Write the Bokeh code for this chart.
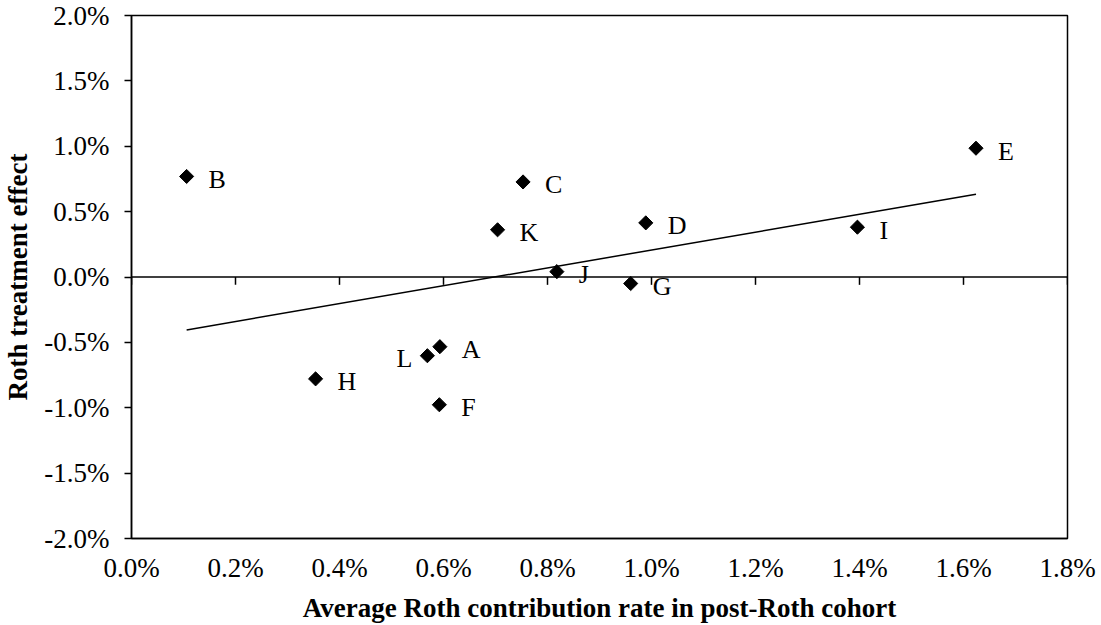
import numpy as np
from bokeh.plotting import figure
from bokeh.models import ColumnDataSource, FixedTicker, NumeralTickFormatter, Span
from bokeh.core.properties import value
from bokeh.embed import file_html
from bokeh.resources import INLINE

# Data (fractions)
names = ["A", "B", "C", "D", "E", "F", "G", "H", "I", "J", "K", "L"]
roth_rate = [0.00593, 0.00106, 0.00753, 0.00989, 0.01624, 0.00592, 0.00960, 0.00354, 0.01396, 0.00818, 0.00704, 0.00569]
treatment = [-0.00533, 0.00769, 0.00727, 0.00414, 0.00985, -0.00977, -0.00050, -0.00779, 0.00381, 0.00041, 0.00361, -0.00602]
x_ticks = [0.0, 0.002, 0.004, 0.006, 0.008, 0.010, 0.012, 0.014, 0.016, 0.018]
y_ticks = [-0.02, -0.015, -0.01, -0.005, 0.0, 0.005, 0.01, 0.015, 0.02]

SERIF = "Liberation Serif"

p = figure(width=1101, height=625, output_backend="svg", toolbar_location=None,
           x_range=(0.0, 0.018), y_range=(-0.02, 0.02),
           min_border_left=131, min_border_right=34, min_border_top=15, min_border_bottom=85)
p.xgrid.visible = False
p.ygrid.visible = False
p.outline_line_color = "black"
p.outline_line_width = 1.5
p.background_fill_color = "white"
p.border_fill_color = "white"

# axes
p.xaxis.ticker = FixedTicker(ticks=x_ticks)
p.yaxis.ticker = FixedTicker(ticks=y_ticks)
p.xaxis.formatter = NumeralTickFormatter(format="0.0%")
p.yaxis.formatter = NumeralTickFormatter(format="0.0%")
for ax in (p.xaxis[0], p.yaxis[0]):
    ax.axis_line_color = "black"
    ax.axis_line_width = 1.5
    ax.minor_tick_line_color = None
    ax.major_label_text_font = SERIF
    ax.major_label_text_font_size = "27px"
    ax.major_label_text_color = "black"
    ax.axis_label_text_font = SERIF
    ax.axis_label_text_font_style = "bold"
    ax.axis_label_text_font_size = "27px"
    ax.axis_label_text_color = "black"

p.xaxis.major_tick_line_color = None
p.xaxis.major_tick_out = 0
p.xaxis.major_tick_in = 0
p.xaxis.major_label_standoff = 14
p.xaxis.axis_label_standoff = 7
p.xaxis.axis_label = "Average Roth contribution rate in post-Roth cohort"

p.yaxis.major_tick_line_color = "black"
p.yaxis.major_tick_line_width = 1.5
p.yaxis.major_tick_out = 7
p.yaxis.major_tick_in = 0
p.yaxis.major_label_standoff = 15
p.yaxis.axis_label_standoff = 8
p.yaxis.axis_label = "Roth treatment effect"

# zero line with tick marks
p.add_layout(Span(location=0, dimension="width", line_color="black", line_width=1.5))
tick_len = 0.0006
p.segment(x0=x_ticks, y0=[0.0] * len(x_ticks), x1=x_ticks, y1=[-tick_len] * len(x_ticks),
          line_color="black", line_width=1.5)

# OLS trend line
slope, intercept = np.polyfit(roth_rate, treatment, 1)
xl = [min(roth_rate), max(roth_rate)]
yl = [slope * v + intercept for v in xl]
p.line(xl, yl, line_color="black", line_width=1.5)

# points
src = ColumnDataSource(dict(
    x=roth_rate, y=treatment, name=names,
    xo=[-15 if n == "L" else 22 for n in names],
    al=["right" if n == "L" else "left" for n in names],
))
p.scatter("x", "y", source=src, marker="square", angle=np.pi / 4, size=10,
          fill_color="black", line_color="black")
p.text("x", "y", text="name", source=src, x_offset="xo", y_offset=3, text_align="al",
       text_baseline="middle", text_font=value(SERIF), text_font_size="26px", text_color="black")

open("out.html", "w").write(file_html(p, INLINE))
